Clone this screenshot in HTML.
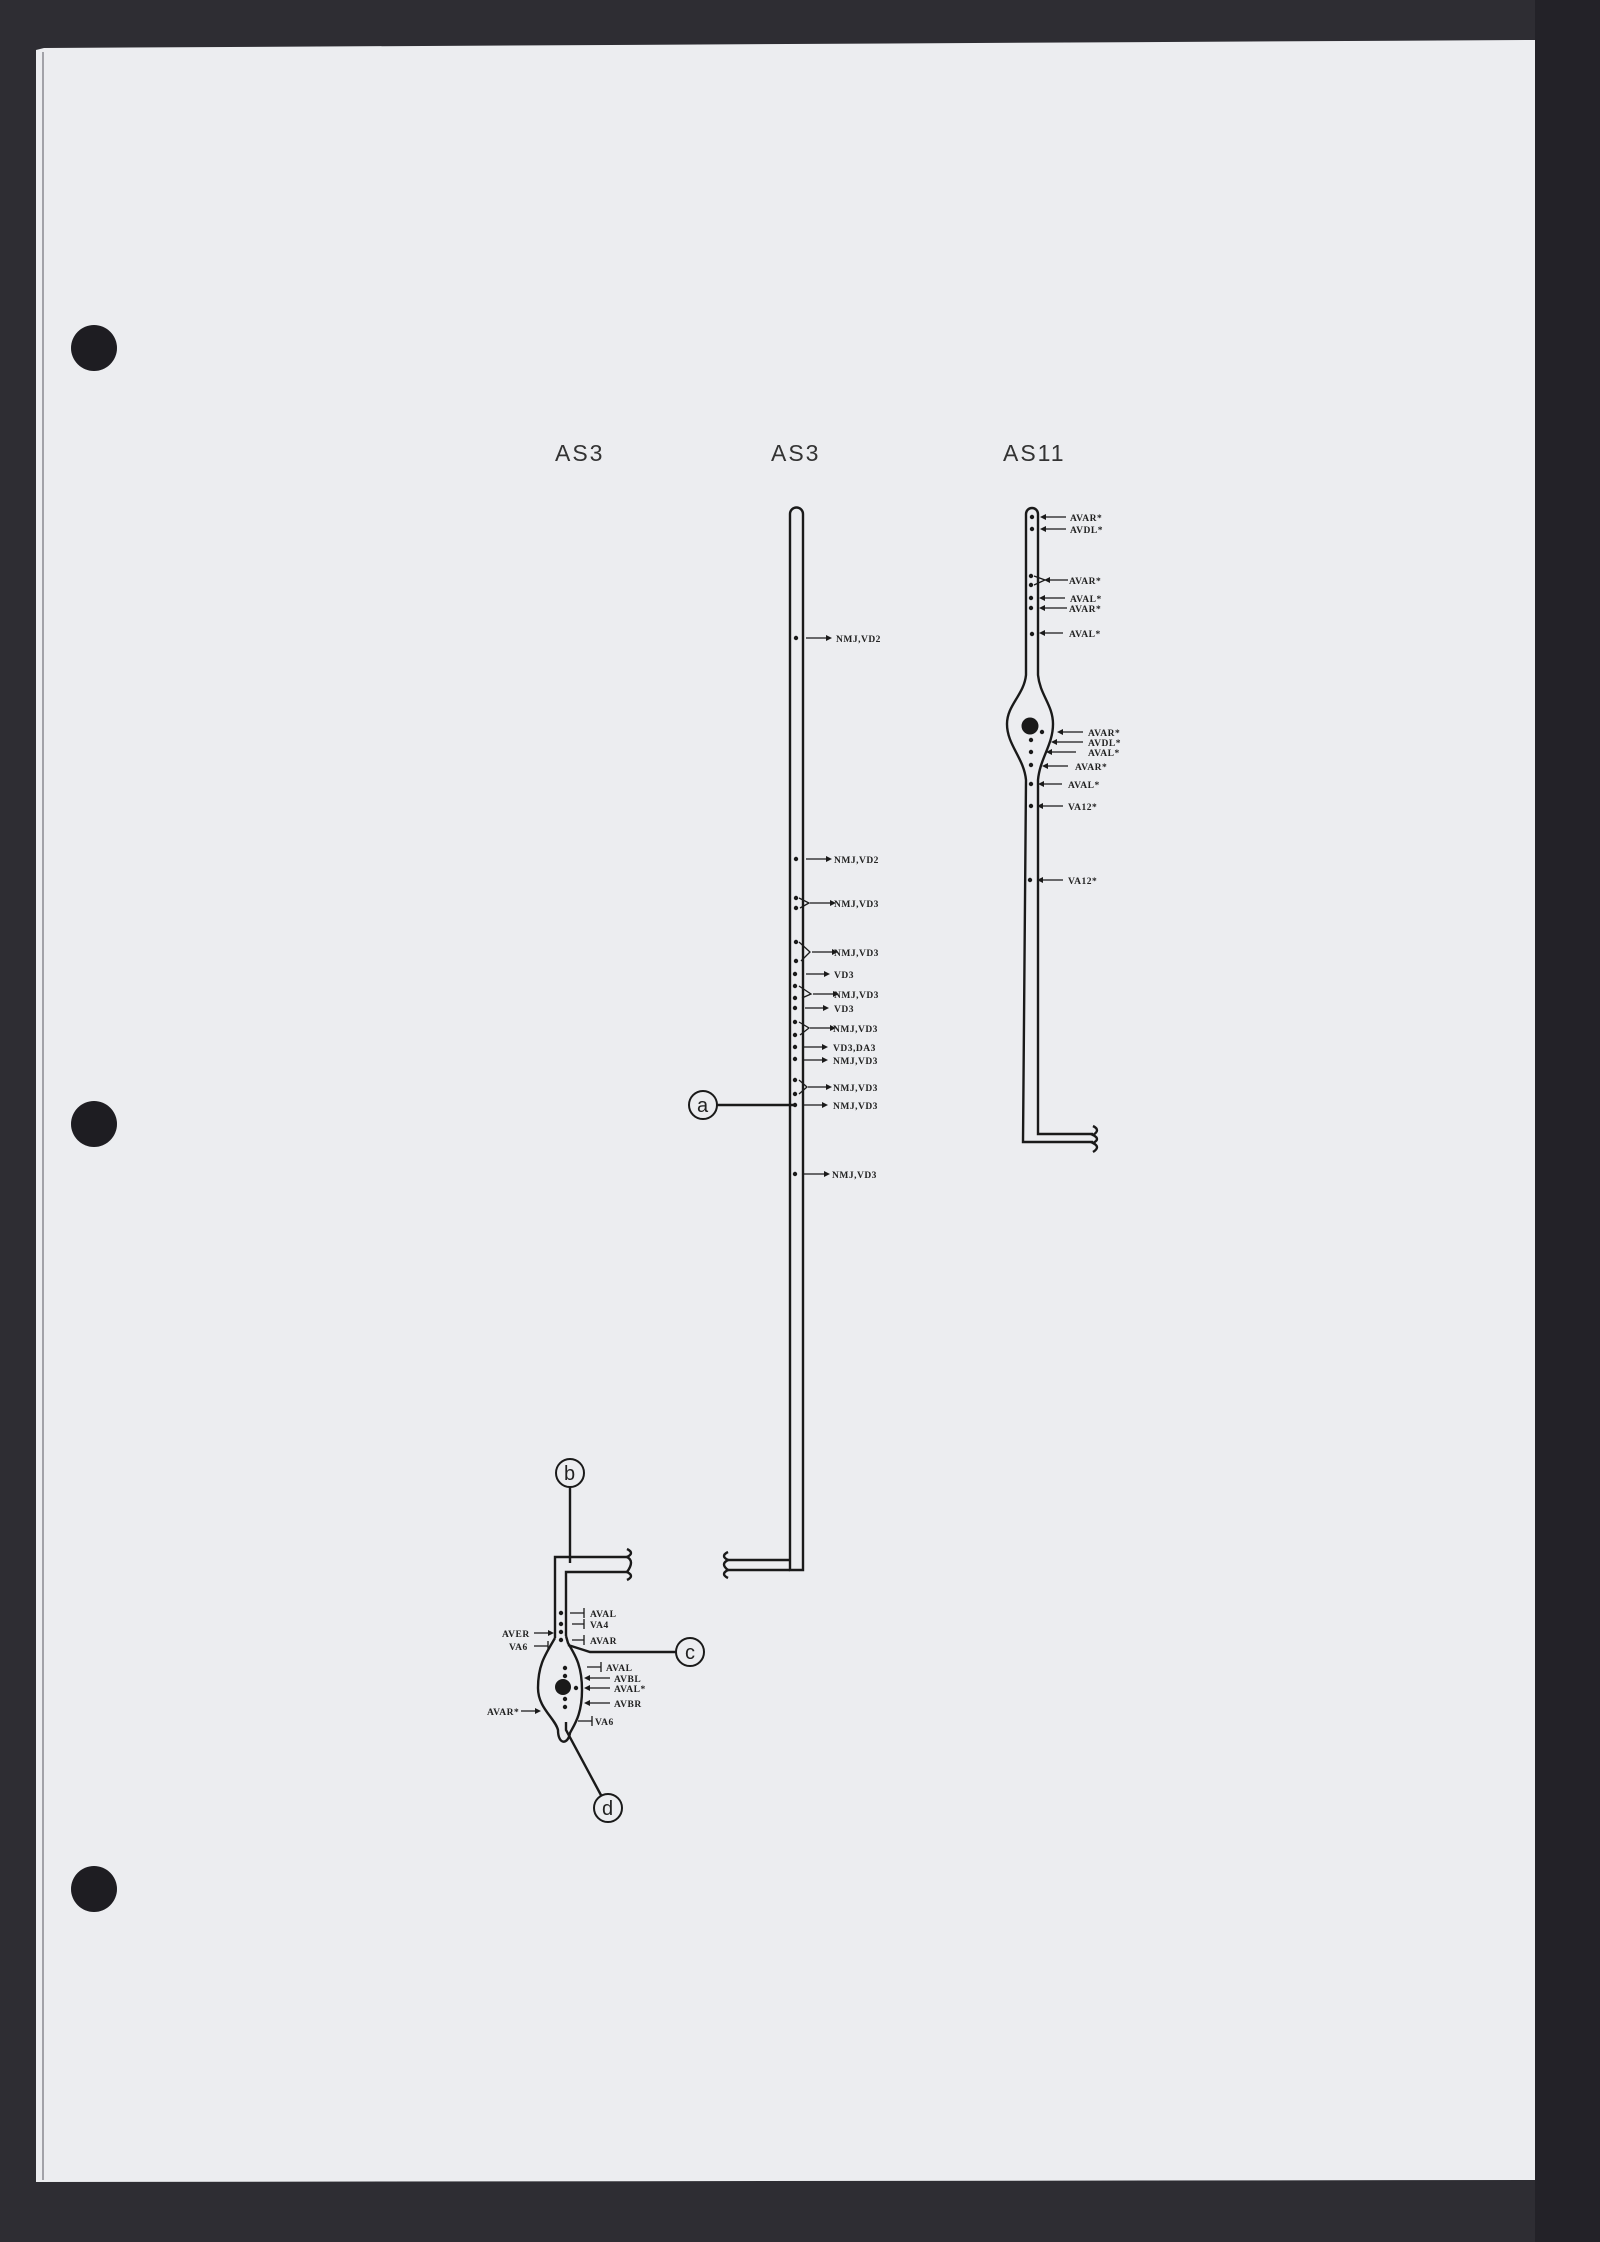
<!DOCTYPE html>
<html><head><style>
html,body{margin:0;padding:0;background:#2a292f;}
svg{display:block;}
text{font-family:"Liberation Serif",serif;font-weight:bold;font-size:9.5px;fill:#222;letter-spacing:0.5px;}
.t{font-family:"Liberation Sans",sans-serif;font-weight:normal;font-size:23px;letter-spacing:2px;fill:#333;}
.c{font-family:"Liberation Sans",sans-serif;font-weight:normal;font-size:20px;fill:#222;letter-spacing:0;}
</style></head><body>
<svg width="1600" height="2242" viewBox="0 0 1600 2242" xmlns="http://www.w3.org/2000/svg">
<rect width="1600" height="2242" fill="#2e2d33"/>
<rect x="1535" y="0" width="65" height="2242" fill="#232228"/>
<path d="M36 50 L44 48 L1535 40 L1535 2180 L36 2182 Z" fill="#ecedf0"/>
<line x1="43" y1="52" x2="43" y2="2180" stroke="#8a8a90" stroke-width="1.5"/>
<circle cx="94" cy="348" r="23" fill="#1e1d22"/>
<circle cx="94" cy="1124" r="23" fill="#1e1d22"/>
<circle cx="94" cy="1889" r="23" fill="#1e1d22"/>

<text class="t" x="555" y="461">AS3</text>
<text class="t" x="771" y="461">AS3</text>
<text class="t" x="1003" y="461">AS11</text>

<g fill="none" stroke="#1a1a1a" stroke-width="2.4">
<!-- middle AS3 -->
<path d="M790 1570 L790 514 A6.5 6.5 0 0 1 803 514 L803 1570 Z"/>
<path d="M790 1570 L727 1570 M790 1560 L727 1560"/>
<path d="M728 1552 q-8 4 0 8 q-8 4 0 10 q-8 4 0 8"/>
<!-- AS11 -->
<path d="M1026 514 A6 6 0 0 1 1038 514 L1038 675 C1040 695 1053 705 1053 724 C1053 745 1040 758 1038 780 L1038 1134 L1093 1134"/>
<path d="M1026 514 L1026 675 C1024 695 1007 705 1007 724 C1007 745 1024 758 1026 780 L1023 1142 L1093 1142"/>
<path d="M1093 1126 q8 4 0 9 q8 4 0 8 q8 4 0 9"/>
<!-- bottom AS3 -->
<path d="M555 1638 L555 1557 L627 1557 M566 1636 L566 1572 L627 1572"/>
<path d="M627 1549 q8 4 0 8 q8 4 0 15 q8 4 0 8"/>
<path d="M555 1638 C545 1655 538 1665 538 1688 C538 1708 555 1718 558 1730 C558 1745 568 1745 570 1733 C574 1725 582 1715 582 1690 C582 1665 575 1655 568 1643 L566 1636"/>
<path d="M570 1473 L570 1563" />
<path d="M568 1645 L590 1652 L676 1652"/>
<path d="M566 1722 L566 1730 L602 1797"/>
<path d="M717 1105 L796 1105"/>
</g>
<g fill="#ecedf0" stroke="#1a1a1a" stroke-width="2">
<circle cx="703" cy="1105" r="14"/>
<circle cx="570" cy="1473" r="14"/>
<circle cx="690" cy="1652" r="14"/>
<circle cx="608" cy="1808" r="14"/>
</g>
<text class="c" x="697" y="1112">a</text>
<text class="c" x="564" y="1480">b</text>
<text class="c" x="685" y="1659">c</text>
<text class="c" x="602" y="1815">d</text>

<!-- middle labels -->
<g fill="#1a1a1a">
<circle cx="796" cy="638" r="2.2"/><circle cx="796" cy="859" r="2.2"/>
<circle cx="796" cy="898" r="2.2"/><circle cx="796" cy="908" r="2.2"/>
<circle cx="796" cy="942" r="2.2"/><circle cx="796" cy="961" r="2.2"/>
<circle cx="795" cy="974" r="2.2"/>
<circle cx="795" cy="986" r="2.2"/><circle cx="795" cy="998" r="2.2"/>
<circle cx="795" cy="1008" r="2.2"/>
<circle cx="795" cy="1022" r="2.2"/><circle cx="795" cy="1035" r="2.2"/>
<circle cx="795" cy="1047" r="2.2"/><circle cx="795" cy="1059" r="2.2"/>
<circle cx="795" cy="1080" r="2.2"/><circle cx="795" cy="1094" r="2.2"/>
<circle cx="795" cy="1105" r="2.2"/><circle cx="795" cy="1174" r="2.2"/>
</g>
<g stroke="#1a1a1a" stroke-width="1.3" fill="none">
<path d="M806 638h20M806 859h20M810 903h20M812 952h20M806 974h18M813 994h20M805 1008h18M810 1028h20M804 1047h18M804 1060h18M808 1087h18M804 1105h18M804 1174h20"/>
<path d="M799 898l10 5l-9 5M799 942l11 10l-9 9M799 986l12 8l-9 4M799 1022l10 6l-9 7M799 1080l8 7l-8 7"/>
</g>
<g fill="#1a1a1a">
<path d="M826 635l6 3l-6 3zM826 856l6 3l-6 3zM830 900l6 3l-6 3zM832 949l6 3l-6 3zM824 971l6 3l-6 3zM833 991l6 3l-6 3zM823 1005l6 3l-6 3zM830 1025l6 3l-6 3zM822 1044l6 3l-6 3zM822 1057l6 3l-6 3zM826 1084l6 3l-6 3zM822 1102l6 3l-6 3zM824 1171l6 3l-6 3z"/>
</g>
<text x="836" y="642">NMJ,VD2</text>
<text x="834" y="863">NMJ,VD2</text>
<text x="834" y="907">NMJ,VD3</text>
<text x="834" y="956">NMJ,VD3</text>
<text x="834" y="978">VD3</text>
<text x="834" y="998">NMJ,VD3</text>
<text x="834" y="1012">VD3</text>
<text x="833" y="1032">NMJ,VD3</text>
<text x="833" y="1051">VD3,DA3</text>
<text x="833" y="1064">NMJ,VD3</text>
<text x="833" y="1091">NMJ,VD3</text>
<text x="833" y="1109">NMJ,VD3</text>
<text x="832" y="1178">NMJ,VD3</text>

<!-- AS11 labels -->
<g fill="#1a1a1a">
<circle cx="1032" cy="517" r="2.2"/><circle cx="1032" cy="529" r="2.2"/>
<circle cx="1031" cy="576" r="2.2"/><circle cx="1031" cy="585" r="2.2"/>
<circle cx="1031" cy="598" r="2.2"/><circle cx="1031" cy="608" r="2.2"/>
<circle cx="1032" cy="634" r="2.2"/>
<circle cx="1030" cy="726" r="8.5"/><circle cx="1042" cy="732" r="2.2"/>
<circle cx="1031" cy="740" r="2.2"/><circle cx="1031" cy="752" r="2.2"/>
<circle cx="1031" cy="765" r="2.2"/><circle cx="1031" cy="784" r="2.2"/>
<circle cx="1031" cy="806" r="2.2"/><circle cx="1030" cy="880" r="2.2"/>
</g>
<g stroke="#1a1a1a" stroke-width="1.3" fill="none">
<path d="M1046 517h20M1046 529h20M1050 580h18M1045 598h20M1045 608h22M1045 633h18M1063 732h20M1057 742h26M1052 752h24M1048 766h20M1044 784h18M1043 806h20M1043 880h20"/>
<path d="M1034 576l11 4l-11 5"/>
</g>
<g fill="#1a1a1a">
<path d="M1046 514l-6 3l6 3zM1046 526l-6 3l6 3zM1050 577l-6 3l6 3zM1045 595l-6 3l6 3zM1045 605l-6 3l6 3zM1045 630l-6 3l6 3zM1063 729l-6 3l6 3zM1057 739l-6 3l6 3zM1052 749l-6 3l6 3zM1048 763l-6 3l6 3zM1044 781l-6 3l6 3zM1043 803l-6 3l6 3zM1043 877l-6 3l6 3z"/>
</g>
<text x="1070" y="521">AVAR*</text>
<text x="1070" y="533">AVDL*</text>
<text x="1069" y="584">AVAR*</text>
<text x="1070" y="602">AVAL*</text>
<text x="1069" y="612">AVAR*</text>
<text x="1069" y="637">AVAL*</text>
<text x="1088" y="736">AVAR*</text>
<text x="1088" y="746">AVDL*</text>
<text x="1088" y="756">AVAL*</text>
<text x="1075" y="770">AVAR*</text>
<text x="1068" y="788">AVAL*</text>
<text x="1068" y="810">VA12*</text>
<text x="1068" y="884">VA12*</text>

<!-- bottom AS3 labels -->
<g fill="#1a1a1a">
<circle cx="561" cy="1613" r="2.2"/><circle cx="561" cy="1624" r="2.2"/>
<circle cx="561" cy="1632" r="2.2"/><circle cx="561" cy="1640" r="2.2"/>
<circle cx="565" cy="1668" r="2.2"/><circle cx="565" cy="1676" r="2.2"/>
<circle cx="563" cy="1687" r="8"/><circle cx="576" cy="1688" r="2.2"/>
<circle cx="565" cy="1699" r="2.2"/><circle cx="565" cy="1707" r="2.2"/>
</g>
<g stroke="#1a1a1a" stroke-width="1.3" fill="none">
<path d="M570 1613h14M584 1608v10M572 1624h12M584 1619v10M572 1640h12M584 1635v10M534 1633h16M534 1646h14M548 1641v10M587 1667h14M601 1662v10M590 1678h20M590 1688h20M590 1703h20M578 1721h14M592 1716v10M521 1711h16"/>
</g>
<g fill="#1a1a1a">
<path d="M554 1633l-6 -3v6zM590 1675l-6 3l6 3zM590 1685l-6 3l6 3zM590 1700l-6 3l6 3zM541 1711l-6 -3v6z"/>
</g>
<text x="590" y="1617">AVAL</text>
<text x="590" y="1628">VA4</text>
<text x="590" y="1644">AVAR</text>
<text x="502" y="1637">AVER</text>
<text x="509" y="1650">VA6</text>
<text x="606" y="1671">AVAL</text>
<text x="614" y="1682">AVBL</text>
<text x="614" y="1692">AVAL*</text>
<text x="614" y="1707">AVBR</text>
<text x="595" y="1725">VA6</text>
<text x="487" y="1715">AVAR*</text>
</svg>
</body></html>
